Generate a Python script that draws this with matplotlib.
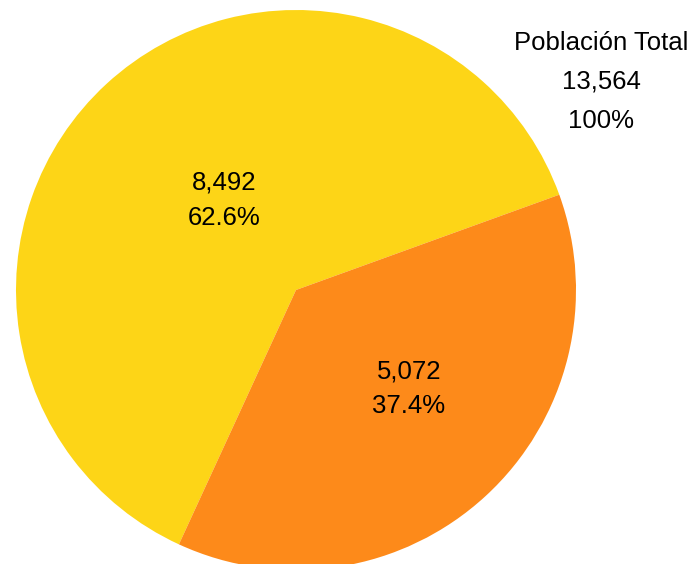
import numpy as np
import matplotlib.pyplot as plt

plt.rcParams['font.family'] = ['Liberation Sans', 'DejaVu Sans']

# Data
labels = ['Grupo 1', 'Grupo 2']
values = [8492, 5072]
colors = ['#FDD517', '#FD8A1A']
total = sum(values)

fig = plt.figure(figsize=(6.95, 5.64), dpi=100)
ax = fig.add_axes([16/695, -6/564, 560/695, 560/564])

wedges, _ = ax.pie(values, colors=colors, startangle=19.9, counterclock=True,
                   radius=1.0, wedgeprops=dict(linewidth=0))

# label placement per slice (distance from centre, angle offset in degrees)
dists = [0.41, 0.535]
offs = [-4, 6.3]
for w, v, d, o in zip(wedges, values, dists, offs):
    ang = np.deg2rad((w.theta1 + w.theta2) / 2 + o)
    x, y = d * np.cos(ang), d * np.sin(ang)
    ax.text(x, y, f'{v:,}\n{v/total*100:.1f}%', ha='center', va='center',
            fontsize=18.5, linespacing=1.56)

ax.set_xlim(-1, 1)
ax.set_ylim(-1, 1)
ax.set_aspect('equal')
ax.axis('off')

fig.text(601/695, 1 - 82/564, f'Población Total\n{total:,}\n100%',
         ha='center', va='center', fontsize=18.5, linespacing=1.79)

fig.savefig('out.png', dpi=100)
